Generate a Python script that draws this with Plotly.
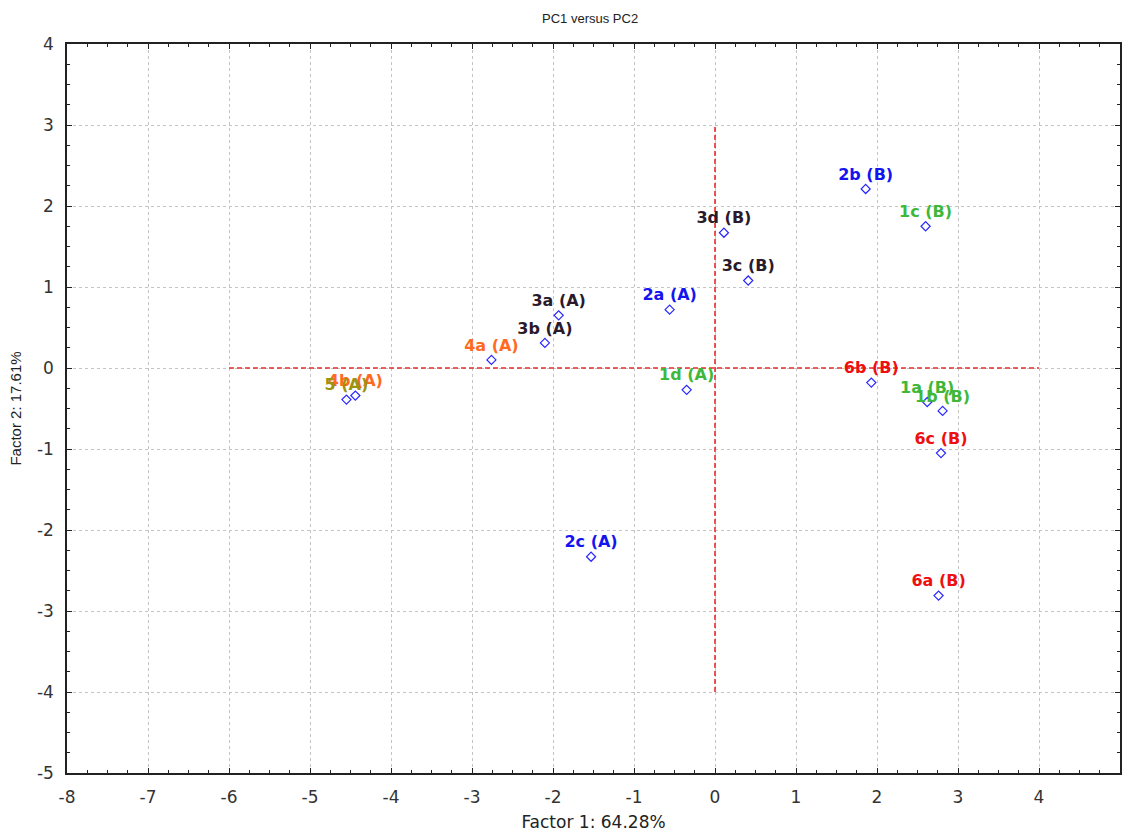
import plotly.graph_objects as go

# ---- data ----
labels = ["2b (B)", "1c (B)", "3d (B)", "3c (B)", "2a (A)", "3a (A)", "3b (A)",
          "4a (A)", "4b (A)", "5 (A)", "1d (A)", "6b (B)", "1a (B)", "1b (B)",
          "6c (B)", "2c (A)", "6a (B)"]
pc1 = [1.86, 2.60, 0.11, 0.41, -0.56, -1.93, -2.10,
       -2.76, -4.44, -4.55, -0.35, 1.93, 2.62, 2.81,
       2.79, -1.53, 2.76]
pc2 = [2.21, 1.75, 1.67, 1.08, 0.72, 0.65, 0.31,
       0.10, -0.34, -0.39, -0.27, -0.18, -0.42, -0.53,
       -1.05, -2.33, -2.81]
groups = ["blue", "green", "dark", "dark", "blue", "dark", "dark",
          "orange", "orange", "olive", "green", "red", "green", "green",
          "red", "blue", "red"]
group_colors = {"blue": "#1414f0", "green": "#3fb83a", "dark": "#2a1a2a",
                "orange": "#ff6a1e", "red": "#ee1010", "olive": "#9c9410"}

ref_h_x = [-6, 4]
ref_h_y = [0, 0]
ref_v_x = [0, 0]
ref_v_y = [-4, 3]

x_range = [-8, 5]
y_range = [-5, 4]
x_tickvals = [-8, -7, -6, -5, -4, -3, -2, -1, 0, 1, 2, 3, 4, 5]
x_ticktext = ["-8", "-7", "-6", "-5", "-4", "-3", "-2", "-1", "0", "1", "2", "3", "4", "5"]
y_tickvals = [-5, -4, -3, -2, -1, 0, 1, 2, 3, 4]
y_ticktext = ["-5", "-4", "-3", "-2", "-1", "0", "1", "2", "3", "4"]

title = "PC1 versus PC2"
x_title = "Factor 1: 64.28%"
y_title = "Factor 2: 17.61%"

# ---- figure ----
fig = go.Figure()

for xs, ys in ((ref_h_x, ref_h_y), (ref_v_x, ref_v_y)):
    fig.add_trace(go.Scatter(x=xs, y=ys, mode="lines",
                             line=dict(color="#ec2a2a", width=1.6, dash="5px,3px"),
                             hoverinfo="skip", showlegend=False))

fig.add_trace(go.Scatter(
    x=pc1, y=pc2, mode="markers+text", text=labels,
    textposition="top center",
    textfont=dict(family="DejaVu Sans", size=16,
                  color=[group_colors[g] for g in groups], weight="bold"),
    marker=dict(symbol="diamond-open", size=7, color="#2828ff",
                line=dict(width=1.2, color="#2828ff")),
    showlegend=False))

axis_common = dict(
    showline=True, linecolor="#222222", linewidth=1.5, mirror="ticks",
    ticks="inside", ticklen=5, tickcolor="#222222", tickwidth=1.2,
    showgrid=True, gridcolor="#c4c4c4", griddash="dot", gridwidth=1,
    zeroline=False,
    tickfont=dict(family="DejaVu Sans", size=17, color="#333333"),
    minor=dict(dtick=0.25, ticks="inside", ticklen=3, tickcolor="#222222",
               tickwidth=1, showgrid=False),
)

fig.update_xaxes(range=x_range, tickmode="array", tickvals=x_tickvals, ticktext=x_ticktext,
                 ticklabelstandoff=8,
                 title=dict(text=x_title, standoff=10,
                            font=dict(family="DejaVu Sans", size=17, color="#222222")),
                 **axis_common)
fig.update_yaxes(range=y_range, tickmode="array", tickvals=y_tickvals, ticktext=y_ticktext,
                 ticklabelstandoff=8,
                 title=dict(text=y_title, standoff=12,
                            font=dict(family="Liberation Sans", size=15, color="#222222")),
                 **axis_common)

fig.update_layout(
    width=1124, height=837,
    margin=dict(l=67, r=4, t=44, b=64, autoexpand=False),
    plot_bgcolor="white", paper_bgcolor="white",
    title=dict(text=title, x=0.525, xanchor="center", y=0.978, yanchor="middle",
               font=dict(family="Liberation Sans", size=13, color="#222222")),
)

fig.write_html("out.html", config={"displayModeBar": False},
               post_script="document.body.style.margin='0';document.body.style.overflow='hidden';")
